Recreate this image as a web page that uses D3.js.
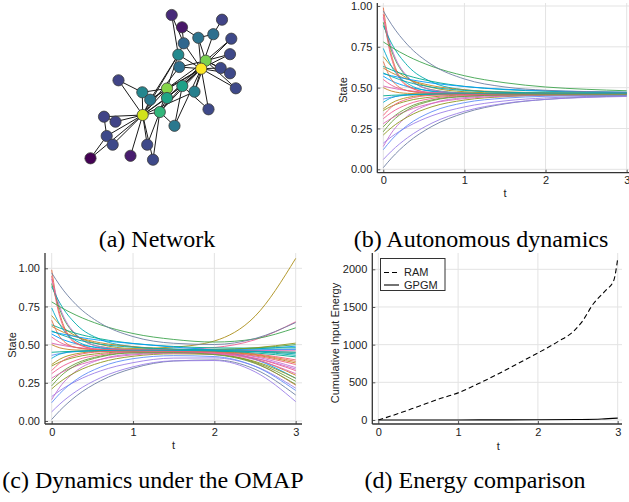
<!DOCTYPE html>
<html>
<head>
<meta charset="utf-8">
<script src="https://cdn.jsdelivr.net/npm/d3@7"></script>
<style>
    body { margin: 0; background: #ffffff; }
    .c_tick { font-family: "Liberation Sans", Arial, sans-serif; font-size: 11px; fill: #222222; }
    .c_label { font-family: "Liberation Sans", Arial, sans-serif; font-size: 11px; fill: #222222; }
    .c_caption { font-family: "Liberation Serif", "Times New Roman", serif; font-size: 24px; fill: #000000; }
</style>
</head>
<body>
<div id="id_svg_main"></div>
<script>

// ------------------------------------------------- data

// network: layout coordinates (0..150), colour value (0..1, viridis), edges
const NODE_X = [81.7, 92, 132, 108.3, 123.3, 93.7, 141.3, 88.3, 140, 115.7, 111.2, 89.3, 130.7, 140, 145.8, 28.5, 52.3,
                77, 92.3, 104.5, 60.2, 77, 69.8, 52.7, 118.5, 14, 25.5, 84.5, 16.7, 22.7, 57.2, 0.5, 40.5, 63];
const NODE_Y = [1, 13.3, 5.7, 23.8, 20.2, 29.3, 24.7, 40.7, 40.2, 46.7, 54.7, 53, 54, 59.3, 74.3, 66.3, 78.3,
                74.5, 72, 77.7, 85.7, 84, 98, 101, 95.3, 102.7, 107.7, 111.8, 122, 130.7, 130.7, 144.3, 141.8, 145.7];
const NODE_VALUE = [0.12, 0.06, 0.2, 0.38, 0.36, 0.33, 0.22, 0.47, 0.22, 0.8, 1.0, 0.36, 0.22, 0.22, 0.22, 0.2, 0.46,
                    0.82, 0.57, 0.43, 0.4, 0.58, 0.66, 0.93, 0.22, 0.2, 0.2, 0.4, 0.22, 0.22, 0.22, 0.0, 0.08, 0.22];
const EDGES = [[1,6],[1,8],[2,4],[2,6],[3,5],[4,5],[4,11],[5,11],[6,11],[6,8],[7,11],[7,10],[9,11],[9,10],
               [13,11],[13,10],[14,11],[14,10],[15,11],[15,10],[8,11],[8,18],[8,21],[12,11],[12,10],[18,11],
               [19,11],[20,11],[22,11],[25,11],[10,11],[4,10],[23,11],[20,10],[19,10],[16,17],[16,24],[17,24],
               [17,18],[17,21],[21,24],[21,18],[22,24],[18,24],[19,24],[23,24],[23,18],[23,22],[23,19],[26,24],
               [26,27],[27,24],[26,29],[29,30],[29,24],[30,24],[32,24],[32,29],[33,24],[31,24],[31,23],[34,23],
               [34,24],[28,23],[28,19],[25,19],[20,24],[8,24],[18,10],[22,10],[28,11],[12,24],[21,11]];

// state trajectories, one row per node, sampled at T_STATE
const T_STATE = [0, 0.1, 0.3, 0.6, 1, 1.5, 2, 2.5, 3];

const STATE_AUTO = [
    [.57, .542, .506, .480, .467, .463, .462, .462, .462],
    [.99, .701, .513, .469, .465, .465, .465, .465, .465],
    [.90, .729, .562, .487, .468, .465, .465, .465, .465],
    [.93, .746, .567, .486, .466, .463, .463, .463, .463],
    [.69, .631, .556, .501, .475, .466, .464, .464, .464],
    [.88, .773, .634, .534, .487, .471, .467, .466, .466],
    [.55, .515, .482, .466, .463, .462, .462, .462, .462],
    [.62, .592, .551, .512, .487, .474, .469, .467, .466],
    [.63, .609, .574, .538, .508, .488, .478, .473, .470],
    [.36, .386, .419, .443, .455, .459, .460, .460, .460],
    [.74, .631, .525, .477, .465, .463, .463, .463, .463],
    [.16, .199, .261, .328, .382, .419, .437, .446, .451],
    [.43, .442, .454, .459, .461, .461, .461, .461, .461],
    [.95, .682, .508, .468, .464, .464, .464, .464, .464],
    [.51, .498, .482, .470, .464, .462, .462, .462, .462],
    [.26, .311, .377, .425, .448, .456, .458, .458, .458],
    [.01, .068, .163, .263, .345, .401, .428, .442, .448],
    [.585, .573, .552, .528, .507, .490, .481, .475, .472],
    [.66, .551, .481, .465, .463, .463, .463, .463, .463],
    [.78, .748, .693, .630, .573, .530, .504, .490, .481],
    [.14, .222, .327, .403, .439, .452, .454, .455, .455],
    [.37, .405, .440, .456, .459, .460, .460, .460, .460],
    [.59, .568, .534, .503, .483, .472, .468, .467, .466],
    [.31, .348, .398, .434, .451, .456, .458, .458, .458],
    [.50, .479, .465, .462, .462, .462, .462, .462, .462],
    [.45, .453, .457, .460, .461, .462, .462, .462, .462],
    [.21, .255, .321, .383, .424, .445, .453, .455, .457],
    [.41, .438, .456, .461, .461, .461, .461, .461, .461],
    [.06, .111, .194, .283, .355, .404, .428, .440, .446],
    [.12, .180, .270, .353, .408, .436, .447, .451, .452],
    [.33, .381, .430, .453, .458, .459, .459, .459, .459],
    [.28, .312, .360, .404, .433, .448, .454, .456, .457],
    [.23, .289, .365, .420, .446, .455, .457, .457, .457],
    [.97, .888, .762, .640, .553, .504, .484, .476, .472]
];

const STATE_OMAP = [
    [.57, .542, .506, .480, .467, .464, .465, .472, .49],
    [.99, .701, .513, .469, .465, .458, .442, .380, .235],
    [.90, .729, .562, .487, .468, .466, .469, .478, .50],
    [.93, .746, .567, .486, .466, .460, .452, .421, .35],
    [.69, .631, .556, .501, .475, .484, .524, .686, 1.065],
    [.88, .773, .634, .534, .487, .470, .464, .456, .44],
    [.55, .515, .482, .466, .463, .468, .481, .532, .65],
    [.62, .592, .551, .512, .487, .469, .452, .406, .30],
    [.63, .609, .574, .538, .508, .488, .479, .477, .48],
    [.36, .386, .419, .443, .455, .461, .465, .479, .51],
    [.74, .631, .525, .477, .465, .463, .464, .466, .47],
    [.16, .199, .261, .328, .382, .412, .413, .359, .215],
    [.43, .442, .454, .459, .461, .461, .462, .464, .47],
    [.95, .682, .508, .468, .464, .462, .458, .440, .40],
    [.51, .498, .482, .470, .464, .462, .462, .461, .46],
    [.26, .311, .377, .425, .448, .450, .438, .385, .26],
    [.01, .068, .163, .263, .345, .393, .400, .339, .17],
    [.585, .573, .552, .528, .507, .484, .462, .404, .28],
    [.66, .551, .481, .465, .463, .461, .456, .436, .39],
    [.78, .748, .693, .630, .573, .534, .517, .538, .61],
    [.14, .222, .327, .403, .439, .449, .443, .412, .34],
    [.37, .405, .440, .456, .459, .460, .459, .456, .45],
    [.59, .568, .534, .503, .483, .471, .464, .454, .43],
    [.31, .348, .398, .434, .451, .452, .445, .411, .33],
    [.50, .479, .465, .462, .462, .460, .454, .432, .38],
    [.45, .453, .457, .460, .461, .461, .458, .446, .42],
    [.21, .255, .321, .383, .424, .440, .435, .390, .28],
    [.41, .438, .456, .461, .461, .461, .460, .457, .45],
    [.06, .111, .194, .283, .355, .394, .396, .322, .127],
    [.12, .180, .270, .353, .408, .428, .422, .358, .20],
    [.33, .381, .430, .453, .458, .456, .450, .426, .37],
    [.28, .312, .360, .404, .433, .444, .439, .402, .31],
    [.23, .289, .365, .420, .446, .448, .435, .377, .24],
    [.97, .888, .762, .640, .553, .509, .501, .540, .645]
];

// cumulative input energy
const T_RAM = [0, 0.25, 0.5, 0.75, 1, 1.25, 1.5, 1.75, 2, 2.25, 2.45, 2.55, 2.7, 2.85, 2.95, 3];
const ENERGY_RAM = [0, 85, 180, 275, 360, 480, 610, 750, 890, 1040, 1180, 1300, 1550, 1720, 1850, 2140];
const T_GPGM = [0, 1, 2, 2.5, 2.8, 3];
const ENERGY_GPGM = [0, 1, 3, 7, 14, 25];

const TICKS_T = [0, 1, 2, 3];
const TICKS_STATE = [0, 0.25, 0.5, 0.75, 1];
const TICKS_ENERGY = [0, 500, 1000, 1500, 2000];

const LEGEND_LABELS = ["RAM", "GPGM"];
const CAPTIONS = ["(a) Network", "(b) Autonomous dynamics", "(c) Dynamics under the OMAP", "(d) Energy comparison"];

// ------------------------------------------------- style

const PALETTE = ["#009afa", "#e36f47", "#3ea44e", "#c371d2", "#ac8e18", "#00aaae", "#ed5e93", "#c68225",
                 "#00a98d", "#8e971e", "#00a9cd", "#9b7fe8", "#618df6", "#f05f73", "#dd65b7", "#6d9f3d", "#6e7fa3"];

const COLOR_AXIS = "#333333";
const COLOR_GRID = "#e3e3e3";

// panel geometry: [t=0, t=3] in x, [low, high] tick in y, and the axis frame
const PANEL_B = { x: [383.3, 626.7], y: [169.3, 6],   left: 377.3, bottom: 172.7, top: 3,   right: 629 };
const PANEL_C = { x: [51.7, 295.7],  y: [421, 268.3], left: 45,    bottom: 424,   top: 253, right: 302 };
const PANEL_D = { x: [378.3, 617.7], y: [420, 269.3], left: 372.3, bottom: 424,   top: 253, right: 622 };

// -------------------------------------------------

let svg = d3.select("#id_svg_main")
                .append("svg")
                    .attr("width", 629)
                    .attr("height", 502);

// ------------------------------------------------- (a) network

let scaleX_net = d3.scaleLinear().domain([0, 150]).range([90, 240]);
let scaleY_net = d3.scaleLinear().domain([0, 150]).range([14, 164]);

let g_net = svg.append("g");

g_net.selectAll("line")
        .data(EDGES)
        .enter()
        .append("line")
            .attr("x1", d => scaleX_net(NODE_X[d[0] - 1]))
            .attr("y1", d => scaleY_net(NODE_Y[d[0] - 1]))
            .attr("x2", d => scaleX_net(NODE_X[d[1] - 1]))
            .attr("y2", d => scaleY_net(NODE_Y[d[1] - 1]))
            .attr("stroke", "#1a1a1a")
            .attr("stroke-width", 1);

g_net.selectAll("circle")
        .data(NODE_X)
        .enter()
        .append("circle")
            .attr("cx", (d, i) => scaleX_net(NODE_X[i]))
            .attr("cy", (d, i) => scaleY_net(NODE_Y[i]))
            .attr("r", 5.6)
            .attr("fill", (d, i) => d3.interpolateViridis(NODE_VALUE[i]))
            .attr("stroke", "#3a3a3a")
            .attr("stroke-width", 0.8);

// ------------------------------------------------- axes helpers

function draw_frame(panel, ticksY, labelY, labelYPos, labelTPos) {

    let scaleX = d3.scaleLinear().domain([0, 3]).range(panel.x);
    let scaleY = d3.scaleLinear().domain([ticksY[0], ticksY[ticksY.length - 1]]).range(panel.y);

    let g = svg.append("g");

    // grid
    g.selectAll(".c_grid_x")
        .data(TICKS_T)
        .enter()
        .append("line")
            .attr("x1", d => scaleX(d))
            .attr("x2", d => scaleX(d))
            .attr("y1", panel.top)
            .attr("y2", panel.bottom)
            .attr("stroke", COLOR_GRID)
            .attr("stroke-width", 1);

    g.selectAll(".c_grid_y")
        .data(ticksY)
        .enter()
        .append("line")
            .attr("x1", panel.left)
            .attr("x2", panel.right)
            .attr("y1", d => scaleY(d))
            .attr("y2", d => scaleY(d))
            .attr("stroke", COLOR_GRID)
            .attr("stroke-width", 1);

    // axis labels
    svg.append("text")
            .attr("class", "c_label")
            .attr("text-anchor", "middle")
            .attr("transform", "translate(" + labelYPos[0] + "," + labelYPos[1] + ") rotate(-90)")
            .attr("dy", "0.35em")
            .text(labelY);

    svg.append("text")
            .attr("class", "c_label")
            .attr("text-anchor", "middle")
            .attr("x", labelTPos[0])
            .attr("y", labelTPos[1])
            .attr("dy", "0.35em")
            .text("t");

    return { x: scaleX, y: scaleY };
}

function draw_axes(panel, scales, ticksY, formatY) {

    let axisY = d3.axisLeft(scales.y)
                    .tickValues(ticksY)
                    .tickFormat(formatY)
                    .tickSize(-3)
                    .tickPadding(5);

    let axisX = d3.axisBottom(scales.x)
                    .tickValues(TICKS_T)
                    .tickFormat(d3.format("d"))
                    .tickSize(-3)
                    .tickPadding(4);

    let gy = svg.append("g")
                .attr("transform", "translate(" + panel.left + ",0)")
                .call(axisY);

    let gx = svg.append("g")
                .attr("transform", "translate(0," + panel.bottom + ")")
                .call(axisX);

    [gx, gy].forEach(function (g) {
        g.select(".domain").remove();
        g.selectAll(".tick line").attr("stroke", COLOR_AXIS).attr("stroke-width", 0.8);
        g.selectAll(".tick text").attr("class", "c_tick").attr("fill", null);
        g.attr("font-size", null).attr("font-family", null);
    });

    svg.append("line")
            .attr("x1", panel.left)
            .attr("x2", panel.left)
            .attr("y1", panel.top)
            .attr("y2", panel.bottom)
            .attr("stroke", COLOR_AXIS)
            .attr("stroke-width", 1.3);

    svg.append("line")
            .attr("x1", panel.left)
            .attr("x2", panel.right)
            .attr("y1", panel.bottom)
            .attr("y2", panel.bottom)
            .attr("stroke", COLOR_AXIS)
            .attr("stroke-width", 1.3);
}

function draw_states(scales, states) {

    let line_state = d3.line()
                        .x((d, i) => scales.x(T_STATE[i]))
                        .y(d => scales.y(d))
                        .curve(d3.curveMonotoneX);

    svg.append("g")
        .selectAll("path")
        .data(states)
        .enter()
        .append("path")
            .attr("d", d => line_state(d))
            .attr("fill", "none")
            .attr("stroke", (d, i) => PALETTE[i % PALETTE.length])
            .attr("stroke-width", 0.9);
}

// ------------------------------------------------- (b) autonomous dynamics

let format_state = d3.format(".2f");

let scales_b = draw_frame(PANEL_B, TICKS_STATE, "State", [342.7, 90], [505, 193]);
draw_states(scales_b, STATE_AUTO);
draw_axes(PANEL_B, scales_b, TICKS_STATE, format_state);

// ------------------------------------------------- (c) dynamics under the OMAP

let scales_c = draw_frame(PANEL_C, TICKS_STATE, "State", [11.7, 345], [173.5, 445]);
draw_states(scales_c, STATE_OMAP);
draw_axes(PANEL_C, scales_c, TICKS_STATE, format_state);

// ------------------------------------------------- (d) energy comparison

let format_energy = d3.format("d");

let scales_d = draw_frame(PANEL_D, TICKS_ENERGY, "Cumulative Input Energy", [335, 343], [498.3, 446.5]);

let line_ram = d3.line()
                    .x((d, i) => scales_d.x(T_RAM[i]))
                    .y(d => scales_d.y(d))
                    .curve(d3.curveMonotoneX);

let line_gpgm = d3.line()
                    .x((d, i) => scales_d.x(T_GPGM[i]))
                    .y(d => scales_d.y(d))
                    .curve(d3.curveMonotoneX);

svg.append("path")
        .attr("d", line_ram(ENERGY_RAM))
        .attr("fill", "none")
        .attr("stroke", "#000000")
        .attr("stroke-width", 1.1)
        .attr("stroke-dasharray", "5,3");

svg.append("path")
        .attr("d", line_gpgm(ENERGY_GPGM))
        .attr("fill", "none")
        .attr("stroke", "#000000")
        .attr("stroke-width", 1.1);

draw_axes(PANEL_D, scales_d, TICKS_ENERGY, format_energy);

// legend
let g_legend = svg.append("g");

g_legend.append("rect")
        .attr("x", 380.5)
        .attr("y", 258.5)
        .attr("width", 64.5)
        .attr("height", 32)
        .attr("fill", "#ffffff")
        .attr("stroke", COLOR_AXIS)
        .attr("stroke-width", 1);

LEGEND_LABELS.forEach(function (label, i) {
    let y = 272.5 + i * 12.5;

    g_legend.append("line")
            .attr("x1", 384)
            .attr("x2", 399)
            .attr("y1", y)
            .attr("y2", y)
            .attr("stroke", "#000000")
            .attr("stroke-width", 1.1)
            .attr("stroke-dasharray", i === 0 ? "5,3" : null);

    g_legend.append("text")
            .attr("class", "c_tick")
            .attr("x", 404)
            .attr("y", y)
            .attr("dy", "0.35em")
            .text(label);
});

// ------------------------------------------------- captions

const CAPTION_POS = [[157, 247], [481, 247], [153, 488], [475, 488]];

svg.selectAll(".c_caption")
        .data(CAPTIONS)
        .enter()
        .append("text")
            .attr("class", "c_caption")
            .attr("text-anchor", "middle")
            .attr("x", (d, i) => CAPTION_POS[i][0])
            .attr("y", (d, i) => CAPTION_POS[i][1])
            .text(d => d);

</script>
</body>
</html>
